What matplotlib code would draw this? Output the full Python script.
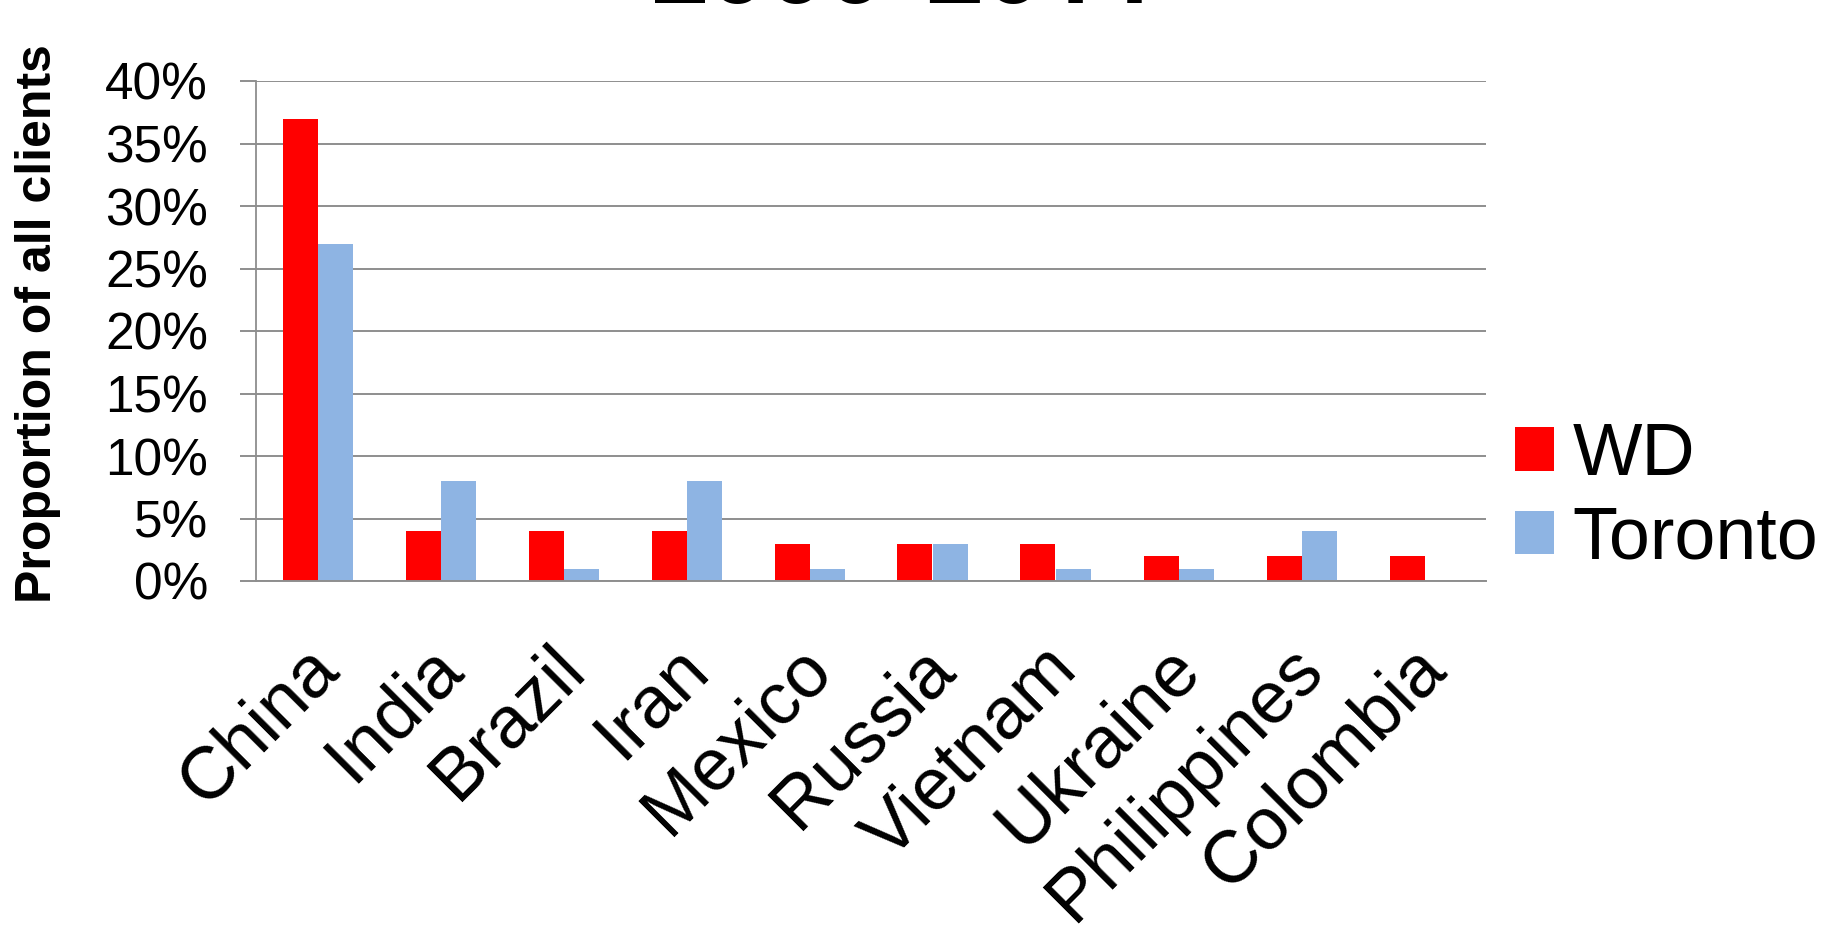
import numpy as np
import matplotlib
matplotlib.use("Agg")
import matplotlib.pyplot as plt
import matplotlib.transforms as mtransforms
from matplotlib.patches import Patch
from matplotlib.ticker import PercentFormatter

plt.rcParams["font.family"] = ["Liberation Sans", "DejaVu Sans"]

# ── data (proportion of all clients, %) ──────────────────────────────────────
countries = ["China", "India", "Brazil", "Iran", "Mexico", "Russia",
             "Vietnam", "Ukraine", "Philippines", "Colombia"]
wd      = [37, 4, 4, 4, 3, 3, 3, 2, 2, 2]
toronto = [27, 8, 1, 8, 1, 3, 1, 1, 4, 0]
series_names = ["WD", "Toronto"]
title_text = "2000-2011"

RED  = "#FF0000"
BLUE = "#8EB4E3"
GRID = "#8E8E8E"

W, H, DPI = 1825, 926, 100
fig = plt.figure(figsize=(W / DPI, H / DPI), dpi=DPI)
ax = fig.add_axes([256 / W, 1 - 581 / H, 1230 / W, 500 / H])

x = np.arange(len(countries))
bw = 35 / 123
ax.bar(x - bw / 2, wd, width=bw, color=RED, zorder=3)
ax.bar(x + bw / 2, toronto, width=bw, color=BLUE, zorder=3)

ax.set_xlim(-0.5, len(countries) - 0.5)
ax.set_ylim(0, 40)
ax.set_yticks(np.arange(0, 41, 5))
ax.yaxis.set_major_formatter(PercentFormatter(decimals=0))
ax.grid(axis="y", color=GRID, lw=1.4, zorder=0)

for side in ("top", "right"):
    ax.spines[side].set_visible(False)
ax.spines["left"].set_color(GRID)
ax.spines["left"].set_linewidth(1.3)
ax.spines["bottom"].set_color(GRID)
ax.spines["bottom"].set_linewidth(1.4)
ax.spines["bottom"].set_zorder(4)

ax.tick_params(axis="y", length=11.5, width=1.4, color=GRID, pad=23,
               labelsize=37)
ax.tick_params(axis="x", length=0, pad=55)
ax.set_xticks(x)
ax.set_xticklabels(countries, rotation=45, ha="right", va="center",
                   rotation_mode="anchor", fontsize=53)
shift = mtransforms.ScaledTranslation(10 / DPI, 0, fig.dpi_scale_trans)
for lbl in ax.get_xticklabels():
    lbl.set_transform(lbl.get_transform() + shift)

ax.set_ylabel("Proportion of all clients", fontsize=36, fontweight="bold",
              va="center")
ax.yaxis.set_label_coords((38 - 256) / 1230, 0.514)

# title, mostly cut off at the top of the picture
fig.text(0.496, 1 - 3 / H, title_text, ha="center", va="baseline",
         fontsize=74, fontweight="bold", family=["Roboto", "Liberation Sans"])

handles = [Patch(facecolor=RED), Patch(facecolor=BLUE)]
fig.legend(handles, series_names, loc="center left",
           bbox_to_anchor=(1515 / W, 1 - 497.5 / H), frameon=False,
           fontsize=53, handlelength=0.53, handleheight=0.53,
           handletextpad=0.25, labelspacing=0.2, borderpad=0,
           borderaxespad=0)

fig.savefig("out.png", dpi=DPI)
